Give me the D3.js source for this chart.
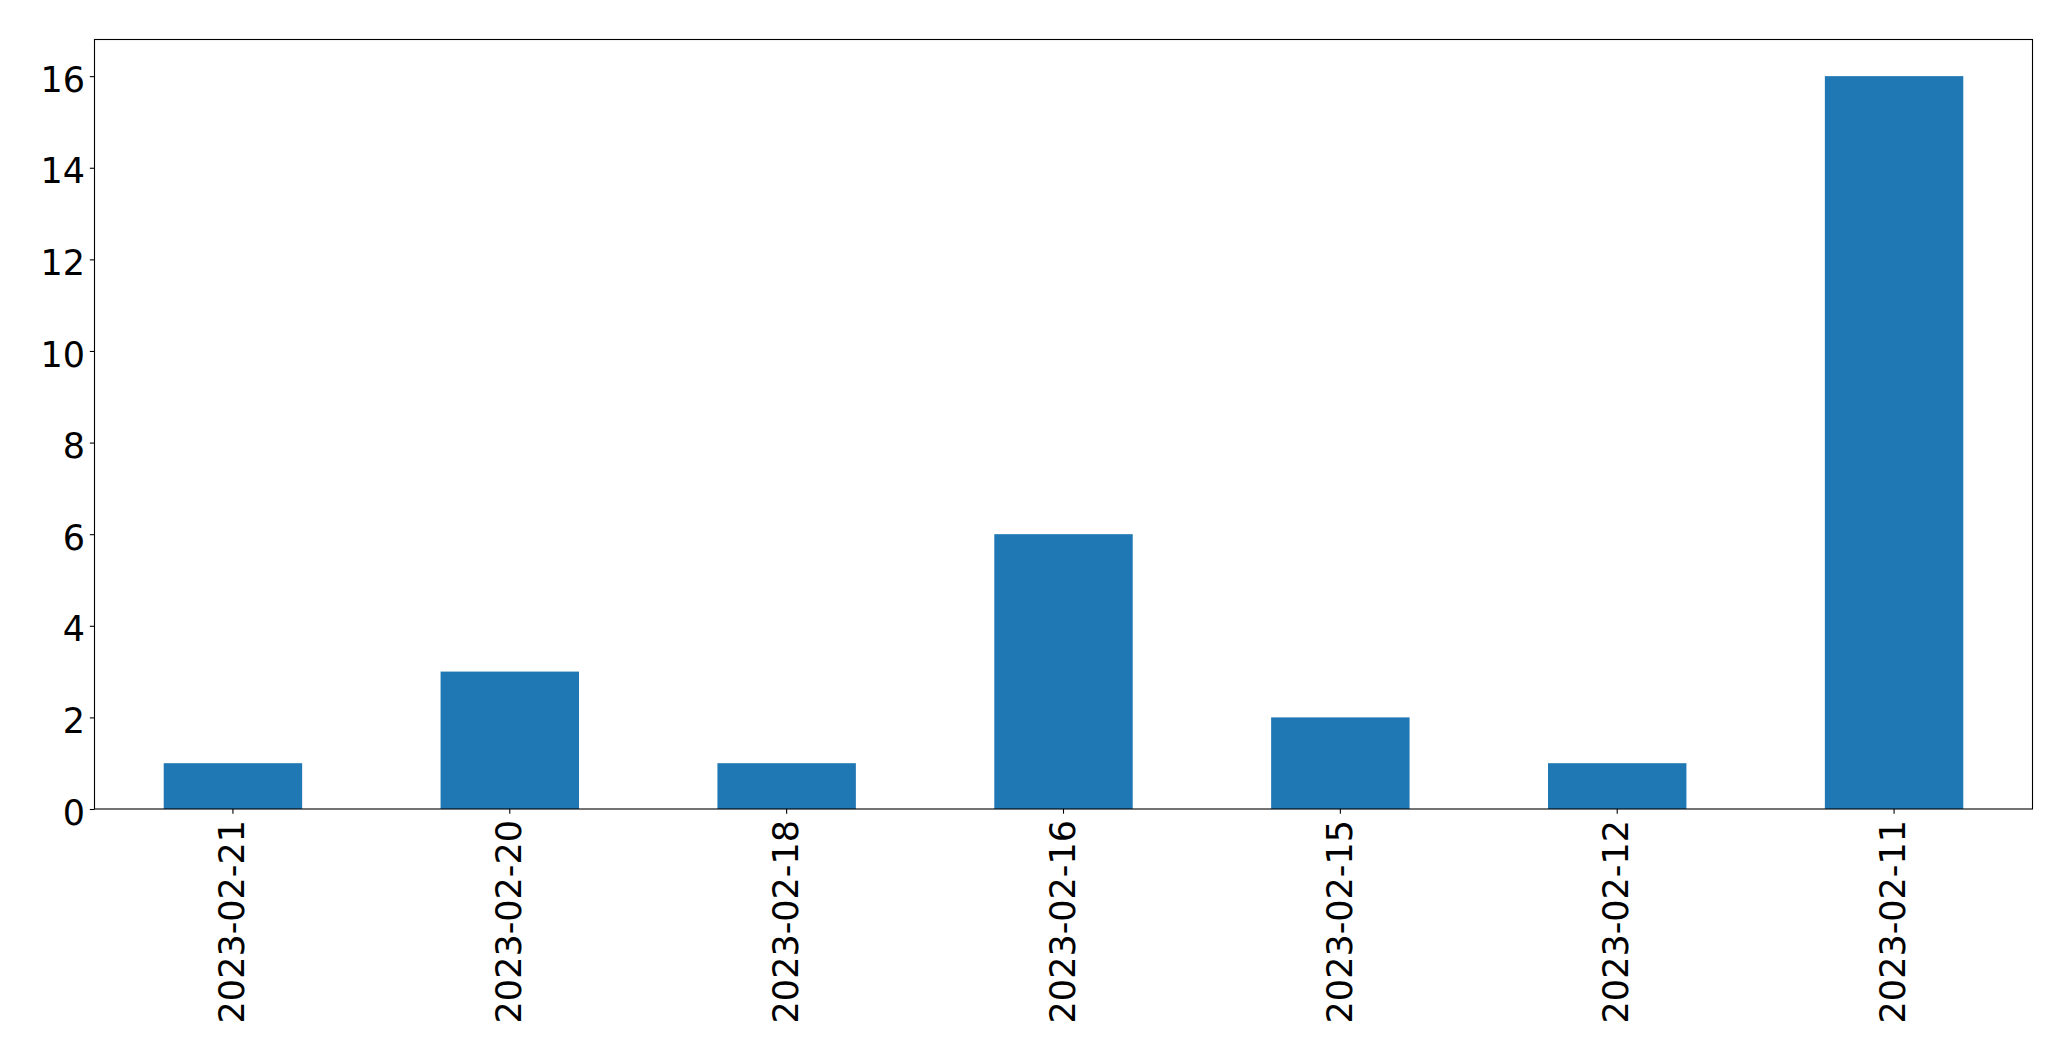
<!DOCTYPE html>
<html>
<head>
<meta charset="utf-8">
<script src="https://cdn.jsdelivr.net/npm/d3@7"></script>
<style>
  html, body { margin: 0; padding: 0; background: #fff; }
  svg { display: block; }
</style>
</head>
<body>
<svg id="chart" width="2071" height="1061"></svg>
<script>
const categories = ["2023-02-21", "2023-02-20", "2023-02-18", "2023-02-16", "2023-02-15", "2023-02-12", "2023-02-11"];
const values = [1, 3, 1, 6, 2, 1, 16];
const yTicks = [0, 2, 4, 6, 8, 10, 12, 14, 16];

const W = 2071, H = 1061;
const margin = { left: 94.5, right: W - 2032.5, top: 39.5, bottom: H - 809 };
const svg = d3.select("#chart");
const fontFamily = "'DejaVu Sans', sans-serif";
const fontSize = 35;

const x = d3.scaleBand()
  .domain(categories)
  .range([margin.left, W - margin.right])
  .paddingInner(0.5)
  .paddingOuter(0.25);

const y = d3.scaleLinear()
  .domain([0, 16.8])
  .range([H - margin.bottom, margin.top]);

// bars
svg.append("g")
  .selectAll("rect")
  .data(values)
  .join("rect")
  .attr("x", (d, i) => x(categories[i]))
  .attr("width", x.bandwidth())
  .attr("y", d => y(d))
  .attr("height", d => y(0) - y(d))
  .attr("fill", "#1f77b4");

// y axis
const yAxis = d3.axisLeft(y).tickValues(yTicks).tickSize(4.7).tickPadding(4.7).tickFormat(d3.format("d"));
const gy = svg.append("g").attr("transform", `translate(${margin.left},0)`).call(yAxis);
gy.select(".domain").remove();
gy.selectAll("line").attr("stroke", "#000").attr("stroke-width", 1.1);
gy.selectAll("text")
  .attr("font-family", fontFamily)
  .attr("font-size", fontSize)
  .attr("fill", "#000")
  .attr("dy", "0.43em");

// x axis
const xAxis = d3.axisBottom(x).tickSize(4.7).tickPadding(0);
const gx = svg.append("g").attr("transform", `translate(0,${H - margin.bottom})`).call(xAxis);
gx.select(".domain").remove();
gx.selectAll("line").attr("stroke", "#000").attr("stroke-width", 1.1);
gx.selectAll("text")
  .attr("font-family", fontFamily)
  .attr("font-size", fontSize)
  .attr("fill", "#000")
  .attr("text-anchor", "end")
  .attr("transform", "translate(0,11) rotate(-90)")
  .attr("x", 0)
  .attr("y", 0)
  .attr("dy", "0.32em");

// frame
svg.append("rect")
  .attr("x", margin.left)
  .attr("y", margin.top)
  .attr("width", W - margin.right - margin.left)
  .attr("height", H - margin.bottom - margin.top)
  .attr("fill", "none")
  .attr("stroke", "#000")
  .attr("stroke-width", 1.1);
</script>
</body>
</html>
